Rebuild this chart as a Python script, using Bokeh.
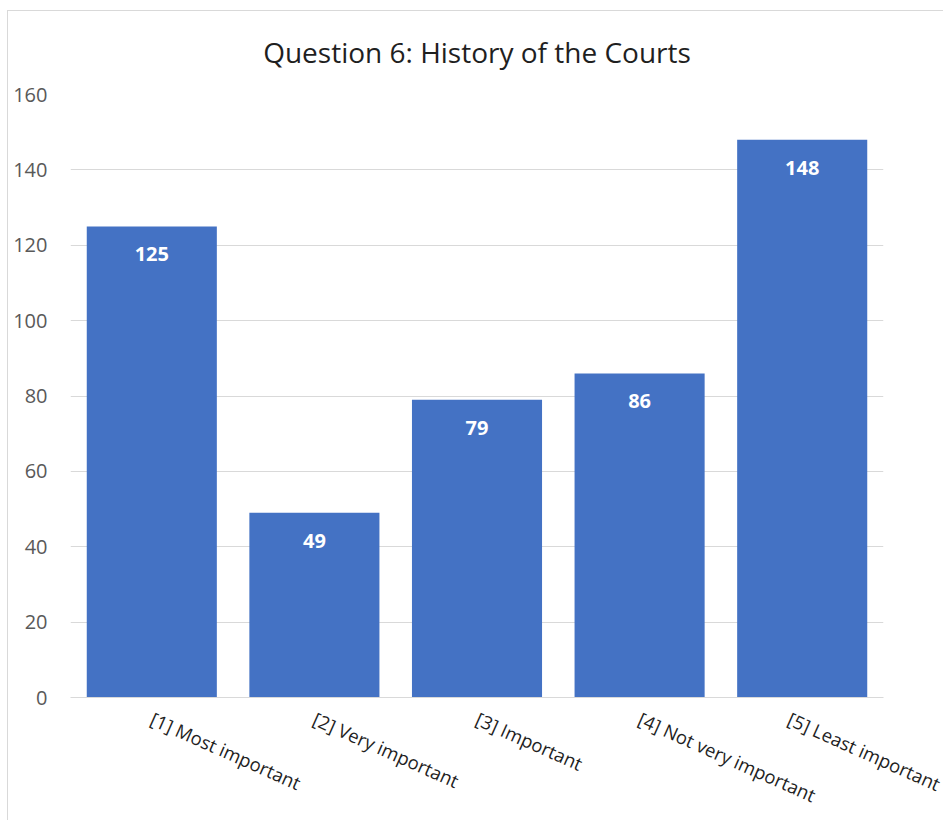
from bokeh.plotting import figure
from bokeh.models import ColumnDataSource, FactorRange, Range1d, FixedTicker
from bokeh.core.properties import value
from bokeh.embed import file_html
from bokeh.resources import INLINE

categories = ["[1] Most important", "[2] Very important", "[3] Important",
              "[4] Not very important", "[5] Least important"]
counts = [125, 49, 79, 86, 148]
y_ticks = [0, 20, 40, 60, 80, 100, 120, 140, 160]
title_text = "Question 6: History of the Courts"

FONT = "Open Sans"
BAR = "#4472C4"
GRID = "#D9D9D9"

src = ColumnDataSource(dict(cat=categories, val=counts, lab=[str(v) for v in counts]))

TOP, LEFT = 11, 8
W, H = 944 - LEFT, 821 - TOP
p = figure(x_range=FactorRange(*categories), y_range=Range1d(0, 160),
           width=W, height=H, output_backend="svg", toolbar_location=None,
           min_border_left=70 - LEFT, min_border_right=944 - 883,
           min_border_top=94 - TOP, min_border_bottom=821 - 698)
p.margin = (TOP, 0, 0, LEFT)
p.styles = {"box-shadow": "-1px -1px 0 0 #D9D9D9"}

p.title.text = title_text
p.title.align = "center"
p.title.vertical_align = "top"
p.title.text_font = FONT
p.title.text_font_size = "28px"
p.title.text_font_style = "normal"
p.title.text_color = "#1F1F1F"
p.title.text_line_height = 1.0
p.title.standoff = 43

p.vbar(x="cat", top="val", width=0.8, source=src, fill_color=BAR, line_color=None)
p.text(x="cat", y="val", text="lab", source=src, y_offset=28,
       text_align="center", text_baseline="middle", text_color="white",
       text_font=value(FONT), text_font_size="20px", text_font_style="bold")

p.outline_line_color = None
p.background_fill_color = "white"
p.border_fill_color = "white"

p.xgrid.grid_line_color = None
p.ygrid.grid_line_color = GRID
p.ygrid.grid_line_width = 1

p.yaxis.ticker = FixedTicker(ticks=y_ticks)
p.yaxis.axis_line_color = None
p.yaxis.major_tick_line_color = None
p.yaxis.minor_tick_line_color = None
p.yaxis.major_tick_out = 0
p.yaxis.major_tick_in = 0
p.yaxis.major_label_standoff = 23
p.yaxis.major_label_text_font = FONT
p.yaxis.major_label_text_font_size = "20px"
p.yaxis.major_label_text_color = "#595959"

p.xaxis.axis_line_color = GRID
p.xaxis.major_tick_line_color = None
p.xaxis.minor_tick_line_color = None
p.xaxis.major_tick_out = 0
p.xaxis.major_tick_in = 0
p.xaxis.major_label_orientation = -0.42
p.xaxis.major_label_standoff = 20
p.xaxis.major_label_text_line_height = 1.0
p.xaxis.major_label_text_font = FONT
p.xaxis.major_label_text_font_size = "18.5px"
p.xaxis.major_label_text_color = "#1F1F1F"

open("out.html", "w").write(file_html(p, INLINE))
